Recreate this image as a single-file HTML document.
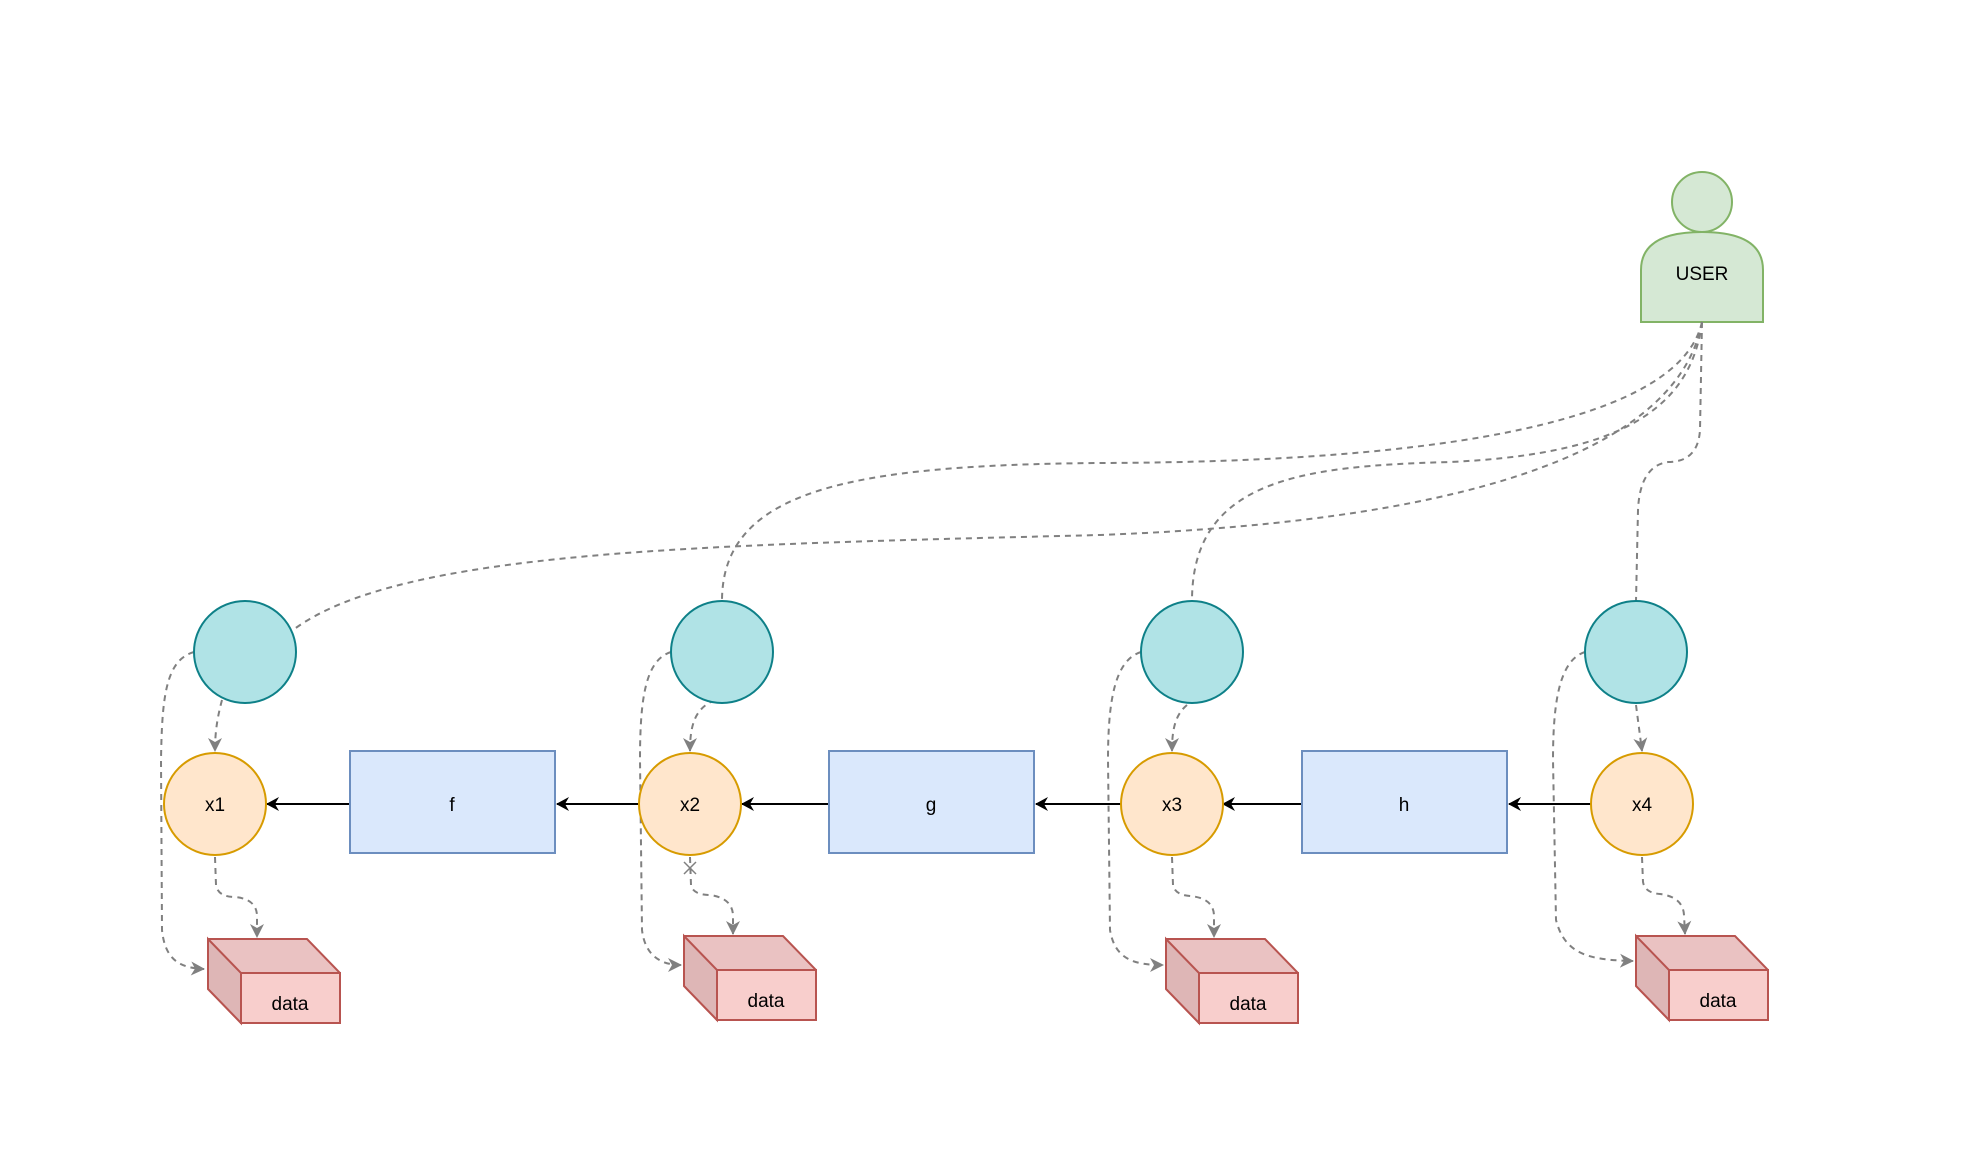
<!DOCTYPE html>
<html><head><meta charset="utf-8"><style>
html,body{margin:0;padding:0;background:#fff;}
svg{display:block;}
text{font-family:"Liberation Sans",Arial,sans-serif;font-size:19px;fill:#000;}
</style></head><body>
<svg width="1976" height="1176" viewBox="0 0 1976 1176" xmlns="http://www.w3.org/2000/svg">
<defs>
<marker id="ga" markerWidth="16" markerHeight="16" refX="13" refY="7" orient="auto" markerUnits="userSpaceOnUse">
<path d="M0,0 L14,7 L0,14 L4,7 Z" fill="#808080"/></marker>
<marker id="ba" markerWidth="14" markerHeight="14" refX="12" refY="7" orient="auto" markerUnits="userSpaceOnUse">
<path d="M0,0 L13,7 L0,14 L4,7 Z" fill="#000"/></marker>
</defs>

<!-- user -->
<g fill="#d5e8d4" stroke="#82b366" stroke-width="2">
<path d="M1641,322 L1641,270 Q1641,232 1702,232 Q1763,232 1763,270 L1763,322 Z"/>
<circle cx="1702" cy="202" r="30"/>
</g>
<text x="1702" y="280" text-anchor="middle">USER</text>

<!-- user edges -->
<g fill="none" stroke="#808080" stroke-width="2" stroke-dasharray="6,5">
<path d="M1702,322 C1680,440 1500,520 1100,535 C700,545 400,550 293,630"/>
<path d="M1702,322 C1680,420 1450,462 1100,463 C850,465 722,490 722,601"/>
<path d="M1702,322 C1690,420 1600,455 1450,462 C1300,466 1192,480 1192,601"/>
<path d="M1702,322 L1700,430 Q1698,462 1668,462 Q1640,466 1638,510 L1636,601"/>
</g>

<!-- dashed local edges -->
<g fill="none" stroke="#808080" stroke-width="2" stroke-dasharray="6,5">
<path d="M194,652 C165,660 162,700 161,760 L162,930 C165,960 180,968 204,969" marker-end="url(#ga)"/>
<path d="M222,700 C218,715 215,730 215,751" marker-end="url(#ga)"/>
<path d="M215,857 L216,885 Q218,897 235,897 Q256,899 257,915 L257,937" marker-end="url(#ga)"/>

<path d="M671,652 C645,660 640,700 640,760 L642,930 C645,955 660,965 681,965" marker-end="url(#ga)"/>
<path d="M715,700 C695,708 690,725 690,751" marker-end="url(#ga)"/>
<path d="M690,857 L691,885 Q693,895 710,895 Q732,898 733,915 L733,934" marker-end="url(#ga)"/>

<path d="M1141,652 C1115,660 1108,700 1108,760 L1110,930 C1115,960 1135,965 1163,965" marker-end="url(#ga)"/>
<path d="M1187,705 C1175,715 1172,730 1172,751" marker-end="url(#ga)"/>
<path d="M1172,857 L1173,885 Q1175,895 1190,896 Q1213,898 1214,915 L1214,937" marker-end="url(#ga)"/>

<path d="M1585,652 C1560,660 1553,700 1553,760 L1556,920 C1565,955 1590,960 1633,961" marker-end="url(#ga)"/>
<path d="M1636,705 L1642,751" marker-end="url(#ga)"/>
<path d="M1642,857 L1643,882 Q1645,893 1660,894 Q1683,897 1684,915 L1685,934" marker-end="url(#ga)"/>
</g>
<path d="M684,862 L696,874 M696,862 L684,874" stroke="#808080" stroke-width="1.5"/>

<!-- solid arrows -->
<g stroke="#000" stroke-width="2" fill="none">
<line x1="350" y1="804" x2="267" y2="804" marker-end="url(#ba)"/>
<line x1="639" y1="804" x2="557" y2="804" marker-end="url(#ba)"/>
<line x1="829" y1="804" x2="742" y2="804" marker-end="url(#ba)"/>
<line x1="1121" y1="804" x2="1036" y2="804" marker-end="url(#ba)"/>
<line x1="1302" y1="804" x2="1223" y2="804" marker-end="url(#ba)"/>
<line x1="1591" y1="804" x2="1509" y2="804" marker-end="url(#ba)"/>
</g>

<!-- teal circles -->
<g fill="#b0e3e6" stroke="#0e8088" stroke-width="2">
<circle cx="245" cy="652" r="51"/>
<circle cx="722" cy="652" r="51"/>
<circle cx="1192" cy="652" r="51"/>
<circle cx="1636" cy="652" r="51"/>
</g>
<!-- orange circles -->
<g fill="#ffe6cc" stroke="#d79b00" stroke-width="2">
<circle cx="215" cy="804" r="51"/>
<circle cx="690" cy="804" r="51"/>
<circle cx="1172" cy="804" r="51"/>
<circle cx="1642" cy="804" r="51"/>
</g>
<text x="215" y="811" text-anchor="middle">x1</text>
<text x="690" y="811" text-anchor="middle">x2</text>
<text x="1172" y="811" text-anchor="middle">x3</text>
<text x="1642" y="811" text-anchor="middle">x4</text>

<!-- rects -->
<g fill="#dae8fc" stroke="#6c8ebf" stroke-width="2">
<rect x="350" y="751" width="205" height="102"/>
<rect x="829" y="751" width="205" height="102"/>
<rect x="1302" y="751" width="205" height="102"/>
</g>
<text x="452" y="811" text-anchor="middle">f</text>
<text x="931" y="811" text-anchor="middle">g</text>
<text x="1404" y="811" text-anchor="middle">h</text>

<!-- cubes -->
<g stroke="#b85450" stroke-width="2">
<g transform="translate(208,939)">
<path d="M0,0 L99,0 L132,34 L132,84 L33,84 L0,50 Z" fill="#eac2c2"/>
<path d="M0,0 L33,34 L33,84 L0,50 Z" fill="#deb6b6"/>
<rect x="33" y="34" width="99" height="50" fill="#f8cecc"/>
</g>
<g transform="translate(684,936)">
<path d="M0,0 L99,0 L132,34 L132,84 L33,84 L0,50 Z" fill="#eac2c2"/>
<path d="M0,0 L33,34 L33,84 L0,50 Z" fill="#deb6b6"/>
<rect x="33" y="34" width="99" height="50" fill="#f8cecc"/>
</g>
<g transform="translate(1166,939)">
<path d="M0,0 L99,0 L132,34 L132,84 L33,84 L0,50 Z" fill="#eac2c2"/>
<path d="M0,0 L33,34 L33,84 L0,50 Z" fill="#deb6b6"/>
<rect x="33" y="34" width="99" height="50" fill="#f8cecc"/>
</g>
<g transform="translate(1636,936)">
<path d="M0,0 L99,0 L132,34 L132,84 L33,84 L0,50 Z" fill="#eac2c2"/>
<path d="M0,0 L33,34 L33,84 L0,50 Z" fill="#deb6b6"/>
<rect x="33" y="34" width="99" height="50" fill="#f8cecc"/>
</g>
</g>
<text x="290" y="1010" text-anchor="middle">data</text>
<text x="766" y="1007" text-anchor="middle">data</text>
<text x="1248" y="1010" text-anchor="middle">data</text>
<text x="1718" y="1007" text-anchor="middle">data</text>
</svg>
</body></html>
